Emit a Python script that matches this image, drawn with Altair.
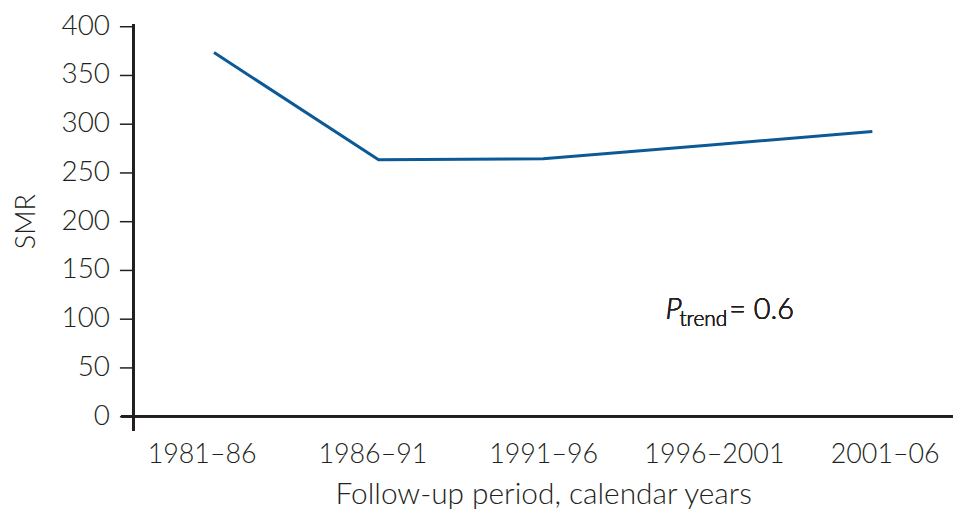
import altair as alt
import pandas as pd

periods = ["1981–86", "1986–91", "1991–96", "1996–2001", "2001–06"]
smr = [373, 263, 264, 278, 292]
y_ticks = [0, 50, 100, 150, 200, 250, 300, 350, 400]

df = pd.DataFrame({"period": periods, "smr": smr})

W, H = 824, 392
FONT = "Lato"
FW = 300
TXT = "#231f20"
LINE = "#0b5a97"

y = alt.Y("smr:Q", scale=alt.Scale(domain=[0, 400], nice=False, zero=True),
          axis=alt.Axis(title="SMR", values=y_ticks, domain=False, grid=False,
                        tickSize=14, tickWidth=1.5, tickColor=TXT, labelPadding=10,
                        labelFontSize=28, titleFontSize=27, titlePadding=21,
                        labelColor=TXT, titleColor=TXT, titleFontWeight=FW, labelFontWeight=FW,
                        labelFont=FONT, titleFont=FONT))

x_line = alt.X("period:N", sort=periods,
               scale=alt.Scale(type="point", padding=0.49),
               axis=alt.Axis(title=None, labels=False, domain=False, ticks=False, grid=False))

x_lab = alt.X("period:N", sort=periods,
              scale=alt.Scale(type="point", padding=0.4),
              axis=alt.Axis(title="Follow-up period, calendar years", domain=False, ticks=False,
                            orient="bottom", labelAngle=0, labelPadding=26, labelFontSize=27,
                            titleFontSize=30, titlePadding=12, labelColor=TXT, titleColor=TXT,
                            titleFontWeight=FW, labelFontWeight=FW, labelFont=FONT, titleFont=FONT))

line = alt.Chart(df).mark_line(color=LINE, strokeWidth=3).encode(x=x_line, y=y)
labels = alt.Chart(df).mark_point(opacity=0).encode(x=x_lab, y=y)

yaxis = alt.Chart(df).mark_rule(color=TXT, strokeWidth=2.5).encode(
    x=alt.value(0), y=alt.value(-2), y2=alt.value(H + 15))
xaxis = alt.Chart(df).mark_rule(color=TXT, strokeWidth=2.5).encode(
    x=alt.value(-12), x2=alt.value(W), y=alt.value(H))

ann_p = alt.Chart(df).mark_text(text="P", font=FONT, fontSize=30, fontStyle="italic", fontWeight=FW,
                                align="left", baseline="alphabetic", color=TXT).encode(
    x=alt.value(535), y=alt.value(294))
ann_t = alt.Chart(df).mark_text(text="trend", font=FONT, fontSize=21, fontWeight=FW,
                                align="left", baseline="alphabetic", color=TXT).encode(
    x=alt.value(549), y=alt.value(301))
ann_v = alt.Chart(df).mark_text(text="= 0.6", font=FONT, fontSize=29, fontWeight=FW,
                                align="left", baseline="alphabetic", color=TXT).encode(
    x=alt.value(599), y=alt.value(294))

chart = alt.layer(line, labels, yaxis, xaxis, ann_p, ann_t, ann_v).resolve_scale(
    x="independent"
).properties(
    width=W, height=H,
    autosize=alt.AutoSizeParams(type="none"),
    padding={"left": 126, "top": 17, "right": 0, "bottom": 92},
).configure_view(stroke=None)

chart.save("out.html", embed_options={"renderer": "svg", "actions": False})
